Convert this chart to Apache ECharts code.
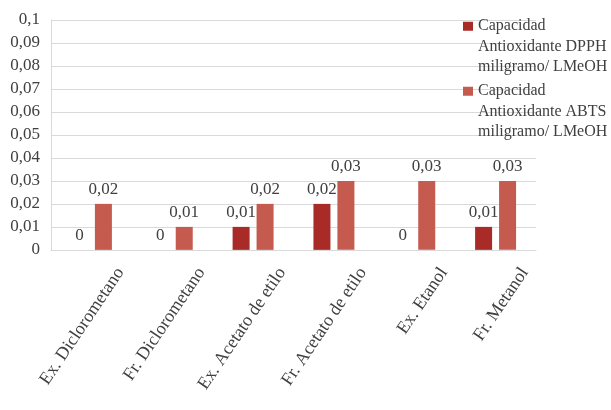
<!DOCTYPE html>
<html>
<head>
<meta charset="utf-8">
<script src="https://cdn.jsdelivr.net/npm/echarts@6/dist/echarts.min.js"></script>
<style>
  html, body { margin: 0; padding: 0; background: #fff; }
  #chart { width: 611px; height: 410px; }
</style>
</head>
<body>
<div id="chart"></div>
<script>
// Extracts and fractions analysed
const categories = [
  'Ex. Diclorometano',
  'Fr. Diclorometano',
  'Ex. Acetato de etilo',
  'Fr. Acetato de etilo',
  'Ex. Etanol',
  'Fr. Metanol'
];

// Antioxidant capacity, mg / L MeOH
const dpphValues = [0, 0, 0.01, 0.02, 0, 0.01];
const abtsValues = [0.02, 0.01, 0.02, 0.03, 0.03, 0.03];

const dpphName = 'Capacidad Antioxidante DPPH miligramo/ LMeOH';
const abtsName = 'Capacidad Antioxidante ABTS miligramo/ LMeOH';

// Y axis range and step
const yMin = 0;
const yMax = 0.1;
const yStep = 0.01;

const FONT = '"Liberation Serif", "DejaVu Serif", serif';
const TEXT = '#404040';
const GRID = '#d9d9d9';

// Decimal comma, at most two decimals
const fmt = v => String(+(+v).toFixed(2)).replace('.', ',');

// Legend text over three lines; the two leading blank lines put the
// square marker level with the first line of text
const legendLines = {};
legendLines[dpphName] = '\n\nCapacidad\nAntioxidante DPPH\nmiligramo/ LMeOH';
legendLines[abtsName] = '\n\nCapacidad\nAntioxidante ABTS\nmiligramo/ LMeOH';

const legendBase = {
  orient: 'vertical',
  left: 463,
  padding: 0,
  itemWidth: 10,
  itemHeight: 9,
  icon: 'rect',
  itemGap: 0,
  selectedMode: false,
  formatter: n => legendLines[n],
  textStyle: {
    fontFamily: FONT,
    fontSize: 16,
    color: TEXT,
    lineHeight: 20.5
  }
};

const chart = echarts.init(document.getElementById('chart'), null, { renderer: 'canvas' });

chart.setOption({
  animation: false,
  backgroundColor: '#ffffff',
  textStyle: { fontFamily: FONT },
  legend: [
    Object.assign({}, legendBase, { top: -25, data: [dpphName] }),
    Object.assign({}, legendBase, { top: 40, data: [abtsName] })
  ],
  grid: {
    left: 51,
    right: 75,
    top: 20,
    bottom: 150,
    containLabel: false
  },
  xAxis: {
    type: 'category',
    data: categories,
    axisLine: { show: true, lineStyle: { color: GRID, width: 1 } },
    axisTick: { show: false },
    axisLabel: {
      rotate: 56,
      interval: 0,
      fontFamily: FONT,
      fontSize: 18,
      color: TEXT,
      margin: 0,
      verticalAlign: 'top',
      lineHeight: 70
    }
  },
  yAxis: {
    type: 'value',
    min: yMin,
    max: yMax,
    interval: yStep,
    axisLine: { show: true, lineStyle: { color: GRID, width: 1 } },
    axisTick: { show: false },
    splitLine: { show: true, lineStyle: { color: GRID, width: 1 } },
    axisLabel: {
      fontFamily: FONT,
      fontSize: 17,
      color: TEXT,
      margin: 11,
      formatter: v => fmt(v)
    }
  },
  series: [
    {
      name: dpphName,
      type: 'bar',
      data: dpphValues,
      barWidth: 17,
      barGap: '41%',
      itemStyle: { color: '#a92b28' },
      label: {
        show: true,
        position: 'top',
        distance: 6,
        fontFamily: FONT,
        fontSize: 17,
        color: TEXT,
        formatter: p => fmt(p.value)
      }
    },
    {
      name: abtsName,
      type: 'bar',
      data: abtsValues,
      barWidth: 17,
      barGap: '41%',
      itemStyle: { color: '#c55a4e' },
      label: {
        show: true,
        position: 'top',
        distance: 6,
        fontFamily: FONT,
        fontSize: 17,
        color: TEXT,
        formatter: p => fmt(p.value)
      }
    }
  ]
});
</script>
</body>
</html>
